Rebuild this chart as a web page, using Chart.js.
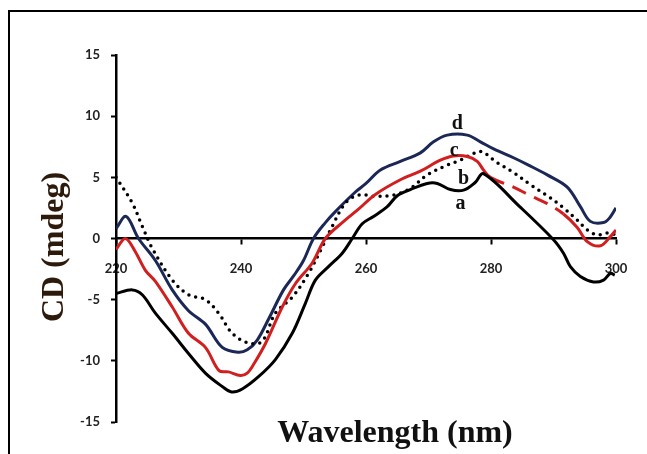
<!DOCTYPE html>
<html>
<head>
<meta charset="utf-8">
<script src="https://cdn.jsdelivr.net/npm/chart.js@4.4.1/dist/chart.umd.min.js"></script>
<style>
  body { margin: 0; background: #fff; }
</style>
</head>
<body>
<canvas id="cd-chart" width="647" height="454"></canvas>
<script>
// Readings taken off the figure (wavelength in nm, CD in mdeg)
const waveA = [220, 222.6, 224.2, 226.3, 229, 231.6, 234.3, 237, 238.5, 240.2, 242.8, 245.5, 248.2, 250.3, 251.9, 254, 256.2, 257.8, 259.4, 261.2, 263.4, 265, 267.1, 269.8, 271.4, 273.5, 275.6, 277.5, 278.8, 284.5, 290, 291.6, 292.7, 294.3, 296.4, 298, 299.1, 299.8];
const cdA = [-4.5, -4.2, -4.6, -6.1, -7.75, -9.4, -11.0, -12.1, -12.55, -12.3, -11.3, -9.9, -7.75, -5.3, -3.4, -2.3, -1.2, 0, 1.2, 1.8, 2.6, 3.5, 4.0, 4.5, 4.5, 4.0, 3.95, 4.6, 5.3, 2.65, -0.1, -1.2, -2.3, -3.1, -3.55, -3.4, -2.85, -3.0];

const waveB = [220, 221.5, 223, 224.7, 226.3, 229, 231.6, 234.3, 236.5, 238, 239.9, 241, 242, 243.9, 246.6, 248.7, 251.4, 253.5, 256.2, 258.8, 261.5, 265.5, 268.7, 271.9, 274, 276.2, 277.8, 278.8, 279.9, 283.6, 286.3, 289, 291.6, 293.8, 295.4, 297.5, 299.1, 300];
const cdB = [-0.9, 0, -1.0, -2.6, -3.5, -5.6, -7.75, -8.9, -10.8, -10.9, -11.2, -11.0, -10.3, -8.6, -5.6, -3.7, -2.0, 0, 1.3, 2.4, 3.6, 4.8, 5.5, 6.4, 6.75, 6.7, 6.3, 5.6, 5.0, 4.2, 3.5, 2.85, 2.0, 0.9, -0.25, -0.6, 0.15, 0.7];

const waveC = [220, 222.6, 224.2, 225.8, 229, 231.6, 234.3, 236.4, 238.6, 241.2, 243.4, 245.5, 248.2, 250.8, 253, 254.6, 256.7, 258.8, 261.5, 264.4, 267.1, 269.8, 273, 275.1, 277.2, 278.5, 281, 283.6, 286.3, 289, 291.6, 293.8, 295.4, 297, 298.6, 300];
const cdC = [5.0, 2.9, 1.0, -0.8, -3.4, -4.6, -5.0, -6.1, -7.75, -8.55, -8.4, -6.1, -4.8, -2.85, -0.7, 1.0, 2.9, 3.55, 3.45, 3.55, 4.1, 5.2, 6.0, 6.4, 6.95, 7.1, 6.2, 5.4, 4.4, 3.5, 2.5, 1.5, 0.7, 0.3, 0.45, 0.3];

const waveD = [220, 221.6, 223.6, 226.3, 229, 231.6, 234.3, 237, 239.5, 241, 242.6, 244.5, 246.8, 248.5, 250, 251.6, 253.5, 255.1, 258.3, 260, 262.3, 265.5, 268.7, 270.8, 273, 276.2, 278.3, 280.5, 283.6, 286, 289, 292.2, 294.3, 295.9, 298, 299, 300];
const cdD = [0.8, 1.8, 0, -1.8, -4.2, -5.9, -7.0, -8.9, -9.3, -9.1, -8.3, -6.5, -4.2, -3.0, -1.8, 0, 1.3, 2.2, 3.8, 4.5, 5.6, 6.3, 7.0, 7.9, 8.45, 8.45, 7.9, 7.3, 6.6, 6.0, 5.2, 4.2, 2.6, 1.4, 1.3, 1.7, 2.5];

// curve tags written next to the peaks
const tagNames = ["a", "b", "c", "d"];
const tagWave = [275.1, 275.6, 274.1, 274.6];
const tagCD = [2.8, 4.9, 7.2, 9.4];

const xTicks = [220, 240, 260, 280, 300];
const yTicks = [-15, -10, -5, 0, 5, 10, 15];

const toPoints = (xs, ys) => xs.map((x, i) => ({ x: x, y: ys[i] }));

// red curve b is dashed over its falling part
const redDashed = (ctx) =>
  ctx.p0.parsed.x >= 279 && ctx.p1.parsed.x <= 292 ? [15, 9] : undefined;

const tickFont = { family: "Lato", size: 13, weight: "bold" };

const overlay = {
  id: "overlay",
  afterDraw(chart) {
    const { ctx, scales } = chart;
    ctx.save();
    // outer frame
    ctx.strokeStyle = "#000";
    ctx.lineWidth = 2;
    ctx.strokeRect(9, 11, 700, 500);

    // curve tags
    ctx.fillStyle = "#111";
    ctx.font = 'bold 20px "Liberation Serif"';
    ctx.textAlign = "center";
    ctx.textBaseline = "middle";
    tagNames.forEach((t, i) => {
      ctx.fillText(t, scales.x.getPixelForValue(tagWave[i]), scales.y.getPixelForValue(tagCD[i]));
    });

    // axis titles
    ctx.font = 'bold 32px "Liberation Serif"';
    ctx.textBaseline = "alphabetic";
    ctx.fillStyle = "#111";
    ctx.fillText("Wavelength (nm)", 395, 442);

    ctx.translate(63, 247);
    ctx.rotate(-Math.PI / 2);
    ctx.fillStyle = "#2e1a0a";
    ctx.fillText("CD (mdeg)", 0, 0);
    ctx.restore();
  },
};

const data = {
  datasets: [
    {
      label: "a",
      data: toPoints(waveA, cdA),
      borderColor: "#000",
      borderWidth: 3,
    },
    {
      label: "b",
      data: toPoints(waveB, cdB),
      borderColor: "#d11f1f",
      borderWidth: 3,
      segment: { borderDash: redDashed },
    },
    {
      label: "c",
      data: toPoints(waveC, cdC),
      borderColor: "#000",
      borderWidth: 3.5,
      borderDash: [0, 7],
      borderCapStyle: "round",
    },
    {
      label: "d",
      data: toPoints(waveD, cdD),
      borderColor: "#1b2857",
      borderWidth: 3,
    },
  ],
};

const config = {
  type: "line",
  data: data,
  options: {
    responsive: false,
    animation: false,
    devicePixelRatio: 1,
    layout: { padding: { left: 0, top: 55, right: 31, bottom: 32 } },
    elements: {
      point: { radius: 0 },
      line: { tension: 0.35, fill: false },
    },
    plugins: {
      legend: { display: false },
      tooltip: { enabled: false },
    },
    scales: {
      x: {
        type: "linear",
        position: { y: 0 },
        min: 220,
        max: 300,
        afterBuildTicks: (s) => { s.ticks = xTicks.map((v) => ({ value: v })); },
        ticks: { font: tickFont, color: "#222", padding: 18, maxRotation: 0 },
        grid: { drawOnChartArea: false, tickLength: 5, tickWidth: 2, tickColor: "#000" },
        border: { color: "#000", width: 2.5 },
        afterFit: (s) => { s.paddingLeft = 0; s.paddingRight = 0; },
      },
      y: {
        type: "linear",
        position: "left",
        min: -15,
        max: 15,
        afterBuildTicks: (s) => { s.ticks = yTicks.map((v) => ({ value: v })); },
        ticks: { font: tickFont, color: "#222", padding: 11 },
        grid: { drawOnChartArea: false, tickLength: 5, tickWidth: 2, tickColor: "#000" },
        border: { color: "#000", width: 2.5 },
        afterFit: (s) => { s.width = 116; s.paddingTop = 0; s.paddingBottom = 0; },
      },
    },
  },
  plugins: [overlay],
};

const cdChart = new Chart(document.getElementById("cd-chart"), config);
</script>
</body>
</html>
